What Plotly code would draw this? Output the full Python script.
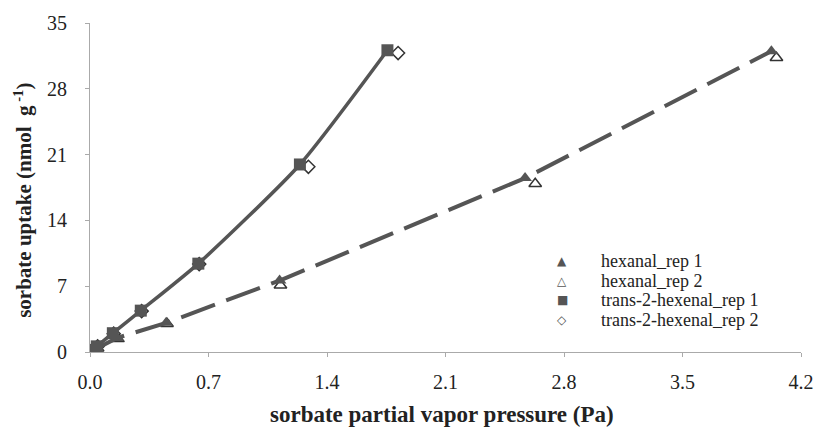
import plotly.graph_objects as go

# Sorption data: partial vapor pressure (Pa) vs. uptake (nmol/g)
hexanal_rep1_p = [0.01, 0.04, 0.16, 0.45, 1.12, 2.57, 4.025]
hexanal_rep1_q = [0.1, 0.4, 1.5, 3.1, 7.6, 18.5, 32.0]
hexanal_rep2_p = [0.012, 0.045, 0.165, 0.455, 1.125, 2.63, 4.055]
hexanal_rep2_q = [0.1, 0.4, 1.4, 3.0, 7.1, 17.9, 31.3]

hexenal_rep1_p = [0.01, 0.04, 0.135, 0.30, 0.64, 1.24, 1.757]
hexenal_rep1_q = [0.2, 0.6, 2.0, 4.4, 9.4, 19.95, 32.1]
hexenal_rep2_p = [0.012, 0.045, 0.14, 0.305, 0.645, 1.29, 1.82]
hexenal_rep2_q = [0.2, 0.6, 1.95, 4.35, 9.35, 19.7, 31.8]

x_ticks = [0.0, 0.7, 1.4, 2.1, 2.8, 3.5, 4.2]
y_ticks = [0, 7, 14, 21, 28, 35]

legend_labels = ["hexanal_rep 1", "hexanal_rep 2",
                 "trans-2-hexenal_rep 1", "trans-2-hexenal_rep 2"]
legend_glyphs = ["\u25B2", "\u25B3", "\u25A0", "\u25C7"]

INK = "#555555"
TEXT = "#222222"
SERIF = "Liberation Serif"

fig = go.Figure()

# replicate 2 drawn first so replicate 1 sits on top
fig.add_trace(go.Scatter(
    x=hexanal_rep2_p, y=hexanal_rep2_q, mode="markers",
    marker=dict(symbol="triangle-up-open", size=11, color="#333333",
                line=dict(width=1.5)),
    name=legend_labels[1], showlegend=False))
fig.add_trace(go.Scatter(
    x=hexenal_rep2_p, y=hexenal_rep2_q, mode="markers",
    marker=dict(symbol="diamond", size=10, color="white",
                line=dict(width=1.5, color="#333333")),
    name=legend_labels[3], showlegend=False))
fig.add_trace(go.Scatter(
    x=hexanal_rep1_p, y=hexanal_rep1_q, mode="lines+markers",
    line=dict(color=INK, width=4, dash="36px,12px"),
    marker=dict(symbol="triangle-up", size=12, color=INK),
    name=legend_labels[0], showlegend=False))
fig.add_trace(go.Scatter(
    x=hexenal_rep1_p, y=hexenal_rep1_q, mode="lines+markers",
    line=dict(color=INK, width=3.5, shape="spline", smoothing=0.6),
    marker=dict(symbol="square", size=12, color=INK),
    name=legend_labels[2], showlegend=False))

annotations = []
# key: glyph + label per row
row_y = [0.277, 0.217, 0.157, 0.097]
for glyph, label, yy in zip(legend_glyphs, legend_labels, row_y):
    annotations.append(dict(
        text=glyph, x=0.664, y=yy, xref="paper", yref="paper",
        xanchor="center", yanchor="middle", showarrow=False,
        font=dict(family="DejaVu Sans", size=12, color=INK)))
    annotations.append(dict(
        text=label, x=0.716, y=yy, xref="paper", yref="paper",
        xanchor="left", yanchor="middle", showarrow=False,
        font=dict(family=SERIF, size=18, color=TEXT)))

# axis titles
annotations.append(dict(
    text="<b>sorbate partial vapor pressure (Pa)</b>",
    x=0.495, y=-0.19, xref="paper", yref="paper",
    xanchor="center", yanchor="middle", showarrow=False,
    font=dict(family=SERIF, size=23, color=TEXT)))
annotations.append(dict(
    text="<b>sorbate uptake (nmol  g<sup> -1</sup>)</b>",
    x=-0.094, y=0.46, xref="paper", yref="paper", textangle=-90,
    xanchor="center", yanchor="middle", showarrow=False,
    font=dict(family=SERIF, size=21, color=TEXT)))

axis_common = dict(
    showgrid=False, zeroline=False,
    showline=True, linecolor="#aaaaaa", linewidth=1,
    ticks="outside", ticklen=4, tickcolor="#aaaaaa",
    tickfont=dict(family=SERIF, size=20, color=TEXT),
)

fig.update_layout(
    width=826, height=437,
    margin=dict(l=90, r=14, t=20, b=85),
    paper_bgcolor="white", plot_bgcolor="white",
    showlegend=False,
    annotations=annotations,
    xaxis=dict(range=[0, 4.2], tickvals=x_ticks,
               ticktext=[f"{v:.1f}" for v in x_ticks],
               ticklabelstandoff=8, **axis_common),
    yaxis=dict(range=[0, 35], tickvals=y_ticks,
               ticklabelstandoff=14, **axis_common),
)

fig.write_html("out.html")
